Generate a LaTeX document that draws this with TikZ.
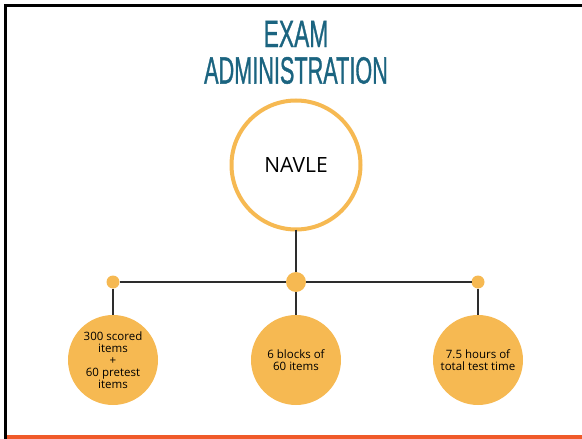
\documentclass[tikz,border=0pt]{standalone}
\usepackage{fontspec}
\setmainfont{Open Sans}
\newfontfamily\headfont[FakeBold=1.2]{Liberation Sans}
\usepackage{tikz}
\usepackage{xcolor}
\usetikzlibrary{positioning}
\definecolor{gold1}{RGB}{246, 185, 82}
\definecolor{teal1}{RGB}{27, 100, 128}
\definecolor{orange1}{RGB}{240, 90, 42}
\definecolor{link1}{RGB}{45, 45, 45}
\tikzstyle{titletext} = [
	text=teal1,
	inner sep=0pt,
	outer sep=0pt,
	font=\headfont\fontsize{38}{38}\selectfont
]
\tikzstyle{rootnode} = [
	circle,
	draw=gold1,
	line width=4pt,
	fill=white,
	minimum size=129pt,
	inner sep=0pt,
	outer sep=0pt,
	font=\fontsize{21}{25}\selectfont
]
\tikzstyle{itemnode} = [
	circle,
	fill=gold1,
	minimum size=90pt,
	inner sep=0pt,
	outer sep=0pt,
	align=center,
	text=black,
	font=\fontsize{11.5}{12}\selectfont
]
\tikzstyle{hubdot} = [
	circle,
	fill=gold1,
	minimum size=20pt,
	inner sep=0pt,
	outer sep=0pt
]
\tikzstyle{smalldot} = [
	circle,
	fill=gold1,
	minimum size=13pt,
	inner sep=0pt,
	outer sep=0pt
]
\tikzstyle{link} = [
	draw=link1,
	line width=1.5pt
]

\begin{document}
\begin{tikzpicture}[x=1pt, y=-1pt]
	\useasboundingbox (0,0) rectangle (582,439);

	% Frame
	\fill[black] (4,4) rectangle (6.5,439);
	\fill[black] (4,4) rectangle (582,6.5);
	\fill[orange1] (6.5,434.5) rectangle (582,439);

	% Title
	\node[titletext, anchor=base] (exam) at (296,47) {\scalebox{0.6}[1]{EXAM}};
	\node[titletext, below=10pt of exam] (admin) {\scalebox{0.57}[1]{ADMINISTRATION}};

	% Root and hub
	\node[rootnode] (navle) at (296,165) {NAVLE};
	\node[hubdot, below=42.5pt of navle] (hub) {};
	\node[smalldot, left=166.5pt of hub] (ldot) {};
	\node[smalldot, right=165.5pt of hub] (rdot) {};

	% Items
	\node[itemnode, below=26.5pt of ldot] (scored) {300 scored\\items\\+\\60 pretest\\items};
	\node[itemnode, below=23pt of hub] (blocks) {6 blocks of\\60 items};
	\node[itemnode, below=26.5pt of rdot] (hours) {7.5 hours of\\total test time};

	% Links
	\draw[link] (navle) -- (hub);
	\draw[link] (ldot) -- (hub) -- (rdot);
	\draw[link] (ldot) -- (scored);
	\draw[link] (hub) -- (blocks);
	\draw[link] (rdot) -- (hours);

\end{tikzpicture}
\end{document}
